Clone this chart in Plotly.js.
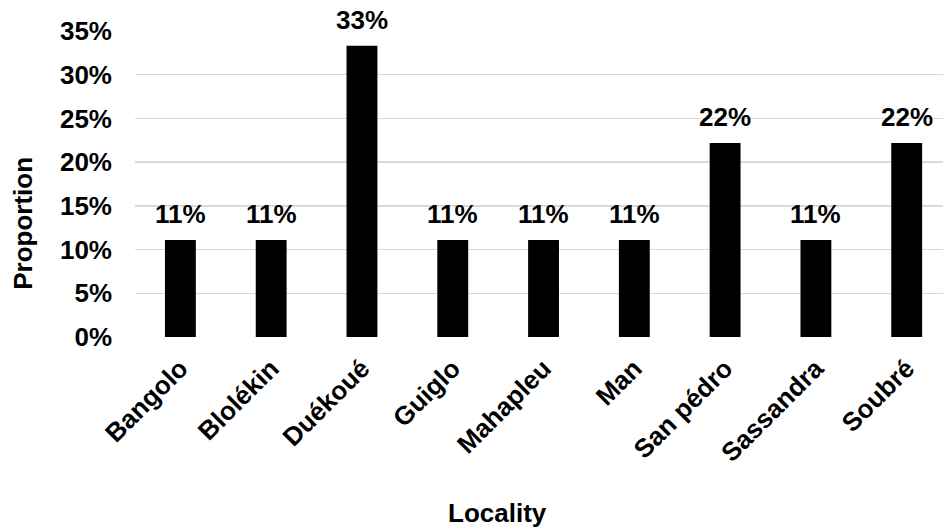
<!DOCTYPE html>
<html>
<head>
<meta charset="utf-8">
<script src="https://cdn.plot.ly/plotly-3.0.1.min.js"></script>
<style>html,body{margin:0;padding:0;background:#fff;}#chart{width:943px;height:528px;}</style>
</head>
<body>
<div id="chart"></div>
<script>
const localities = ["Bangolo", "Blolékin", "Duékoué", "Guiglo", "Mahapleu", "Man", "San pédro", "Sassandra", "Soubré"];
const proportions = [0.111, 0.111, 0.333, 0.111, 0.111, 0.111, 0.222, 0.111, 0.222];
const yTickVals = [0, 0.05, 0.10, 0.15, 0.20, 0.25, 0.30, 0.35];
const yTickText = ["0%", "5%", "10%", "15%", "20%", "25%", "30%", "35%"];

const FONT = "Liberation Sans, Arial, sans-serif";
const FS = 26;
const boldFont = {family: FONT, size: FS, color: "#000000", weight: "bold"};

const trace = {
  type: "bar",
  x: localities,
  y: proportions,
  marker: {color: "#000000"},
  cliponaxis: false,
  hoverinfo: "none"
};

const valueLabels = localities.map((loc, i) => ({
  x: loc, y: proportions[i], xref: "x", yref: "y",
  text: Math.round(proportions[i] * 100) + "%",
  showarrow: false, xanchor: "center", yanchor: "bottom", yshift: 9,
  font: boldFont
}));

const layout = {
  width: 943,
  height: 528,
  margin: {l: 135, r: 0, t: 31, b: 190.5},
  paper_bgcolor: "#ffffff",
  plot_bgcolor: "#ffffff",
  bargap: 0.66,
  showlegend: false,
  font: boldFont,
  xaxis: {
    type: "category",
    range: [-0.5, 8.4],
    tickangle: -45,
    showgrid: false,
    showline: false,
    zeroline: false,
    ticks: "",
    ticklabelstandoff: 10,
    tickfont: boldFont,
    automargin: false
  },
  yaxis: {
    range: [0, 0.35],
    tickvals: yTickVals,
    ticktext: yTickText,
    showgrid: true,
    gridcolor: "#d9d9d9",
    gridwidth: 1.5,
    zeroline: false,
    showline: false,
    ticks: "",
    ticklabelstandoff: 22,
    tickfont: boldFont,
    automargin: false
  },
  annotations: valueLabels.concat([
    {text: "Locality", xref: "paper", yref: "paper", x: 0.449, y: -0.576, xanchor: "center", yanchor: "middle", showarrow: false,
     font: boldFont},
    {text: "Proportion", xref: "paper", yref: "paper", x: -0.1386, y: 0.37, xanchor: "center", yanchor: "middle", textangle: -90, showarrow: false,
     font: boldFont}
  ])
};

Plotly.newPlot("chart", [trace], layout, {staticPlot: true, displayModeBar: false});
</script>
</body>
</html>
